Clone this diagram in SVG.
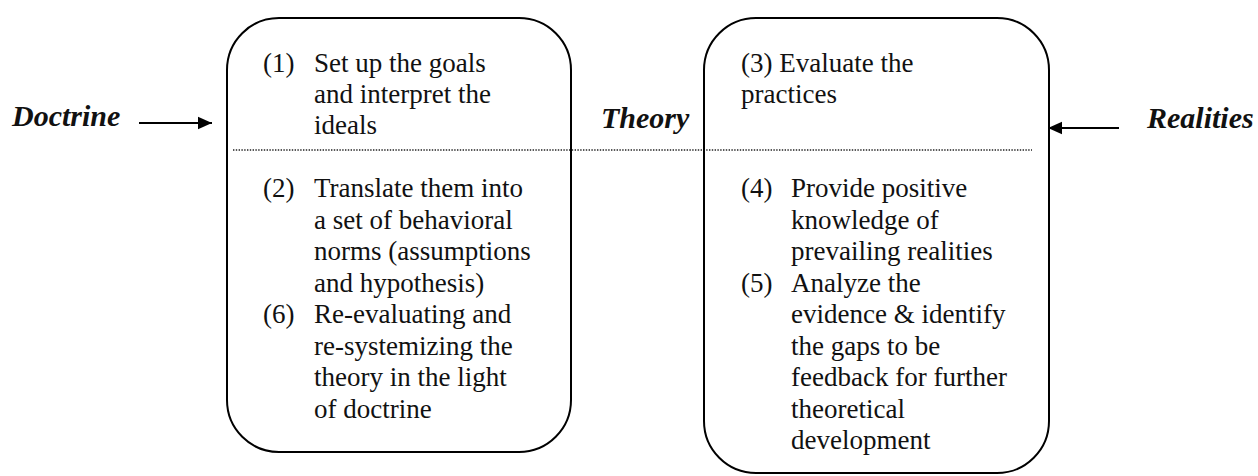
<svg xmlns="http://www.w3.org/2000/svg" width="1258" height="476" viewBox="0 0 1258 476">
<style>
.box{fill:none;stroke:#000;stroke-width:2}
.t{font-family:"Liberation Serif","Times New Roman",serif;font-size:27px;fill:#111}
.lbl{font-family:"Liberation Serif","Times New Roman",serif;font-size:30px;font-weight:bold;font-style:italic;fill:#111}
.conn{stroke:#000;stroke-width:1.8;fill:none}
.dot{stroke:#222;stroke-width:1.4;stroke-dasharray:1.4 1.4;fill:none}
</style>
<defs>
<marker id="ah" viewBox="0 0 10 10" refX="10" refY="5" markerWidth="14" markerHeight="14" markerUnits="userSpaceOnUse" orient="auto">
<path d="M0,0.5 L10,5 L0,9.5 z" fill="#000"/>
</marker>
</defs>
<rect width="1258" height="476" fill="#fff"/>
<g id="divider">
<line class="dot" x1="233" y1="150" x2="1032" y2="150"/>
</g>
<g id="doctrine">
<text class="lbl" x="12" y="126">Doctrine</text>
</g>
<g id="theory">
<text class="lbl" x="601" y="128">Theory</text>
</g>
<g id="realities">
<text class="lbl" x="1147" y="128">Realities</text>
</g>
<g id="left-box">
<rect class="box" x="227" y="18" width="344" height="434" rx="52" ry="52"/>
<text class="t" x="263" y="72">(1)</text>
<text class="t" x="314" y="72">Set up the goals</text>
<text class="t" x="314" y="103">and interpret the</text>
<text class="t" x="314" y="134">ideals</text>
<text class="t" x="263" y="197">(2)</text>
<text class="t" x="314" y="197">Translate them into</text>
<text class="t" x="314" y="228.5">a set of behavioral</text>
<text class="t" x="314" y="260">norms (assumptions</text>
<text class="t" x="314" y="291.5">and hypothesis)</text>
<text class="t" x="263" y="323">(6)</text>
<text class="t" x="314" y="323">Re-evaluating and</text>
<text class="t" x="314" y="354.5">re-systemizing the</text>
<text class="t" x="314" y="386">theory in the light</text>
<text class="t" x="314" y="417.5">of doctrine</text>
</g>
<g id="right-box">
<rect class="box" x="704" y="18" width="345" height="455" rx="52" ry="52"/>
<text class="t" x="741" y="72">(3) Evaluate the</text>
<text class="t" x="741" y="103">practices</text>
<text class="t" x="741" y="197">(4)</text>
<text class="t" x="791" y="197">Provide positive</text>
<text class="t" x="791" y="228.5">knowledge of</text>
<text class="t" x="791" y="260">prevailing realities</text>
<text class="t" x="741" y="291.5">(5)</text>
<text class="t" x="791" y="291.5">Analyze the</text>
<text class="t" x="791" y="323">evidence &amp; identify</text>
<text class="t" x="791" y="354.5">the gaps to be</text>
<text class="t" x="791" y="386">feedback for further</text>
<text class="t" x="791" y="417.5">theoretical</text>
<text class="t" x="791" y="449">development</text>
</g>
<g id="connectors">
<line class="conn" x1="139" y1="123" x2="212" y2="123" marker-end="url(#ah)"/>
<line class="conn" x1="1119" y1="128" x2="1048" y2="128" marker-end="url(#ah)"/>
</g>
</svg>
